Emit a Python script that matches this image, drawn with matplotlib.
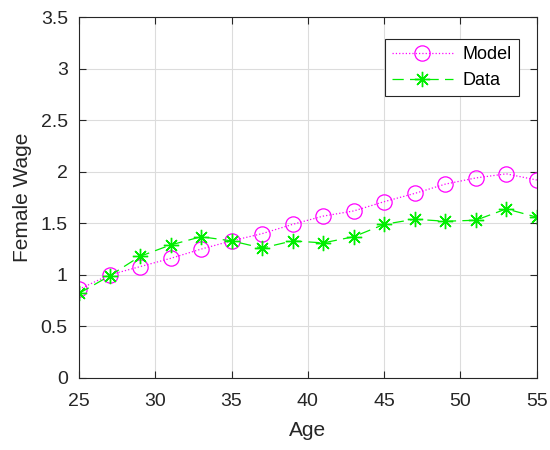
import matplotlib.pyplot as plt

ages = [25, 27, 29, 31, 33, 35, 37, 39, 41, 43, 45, 47, 49, 51, 53, 55]
model = [0.86, 1.00, 1.08, 1.16, 1.25, 1.33, 1.40, 1.49, 1.57, 1.62, 1.71, 1.79, 1.88, 1.94, 1.98, 1.92]
data = [0.82, 0.99, 1.18, 1.29, 1.37, 1.33, 1.26, 1.33, 1.31, 1.37, 1.49, 1.54, 1.52, 1.53, 1.64, 1.56]

plt.rcParams['font.family'] = ['Liberation Sans', 'DejaVu Sans']

fig = plt.figure(figsize=(5.5, 4.5), dpi=100)
ax = fig.add_axes([0.1436, 0.16, 0.8324, 0.802])

ax.plot(ages, model, color='#ff00ff', linestyle=':', linewidth=0.9, marker='o',
        markersize=11, markerfacecolor='none', markeredgewidth=0.9, label='Model')
ax.plot(ages, data, color='#00ee00', linestyle=(0, (9, 5)), linewidth=0.9, marker=(8, 2, 0),
        markersize=11, markeredgewidth=1.0, label='Data')

ax.set_xlim(25, 55)
ax.set_ylim(0, 3.5)
ax.set_xticks(range(25, 56, 5))
ax.set_yticks([0, 0.5, 1, 1.5, 2, 2.5, 3, 3.5])
ax.set_yticklabels(['0', '0.5', '1', '1.5', '2', '2.5', '3', '3.5'])
ax.grid(True, color='#dcdcdc', linewidth=0.8)
ax.set_axisbelow(True)
ax.tick_params(direction='in', labelsize=14, length=5, top=True, right=True,
               labeltop=False, labelright=False, color='#262626', labelcolor='#262626')
ax.tick_params(axis='x', pad=11)
ax.tick_params(axis='y', pad=8)
for s in ax.spines.values():
    s.set_color('#262626')
    s.set_linewidth(0.8)

ax.set_xlabel('Age', fontsize=15, color='#262626', labelpad=8)
ax.set_ylabel('Female Wage', fontsize=15, color='#262626', labelpad=6)

leg = ax.legend(loc='upper right', fontsize=13, fancybox=False, edgecolor='#262626',
                framealpha=1, handlelength=3.4, borderpad=0.4, labelspacing=0.5,
                handletextpad=0.5, bbox_to_anchor=(0.98, 0.965))
leg.get_frame().set_linewidth(0.8)

fig.savefig('out.png', dpi=100)
